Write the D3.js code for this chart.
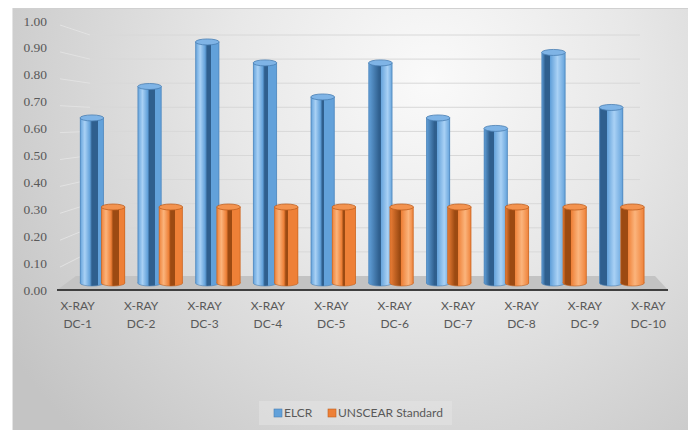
<!DOCTYPE html>
<html lang="en">
<head>
<meta charset="UTF-8" />
<title>ELCR vs UNSCEAR Standard</title>
<script src="https://d3js.org/d3.v7.min.js"></script>
<style>
  body { margin: 0; background: #ffffff; }
  svg { display: block; }
</style>
</head>
<body>
<script>
    // data
    var categories = ["DC-1", "DC-2", "DC-3", "DC-4", "DC-5", "DC-6", "DC-7", "DC-8", "DC-9", "DC-10"];
    var elcr = [0.63, 0.75, 0.92, 0.84, 0.71, 0.84, 0.63, 0.59, 0.88, 0.67];
    var unscear = [0.29, 0.29, 0.29, 0.29, 0.29, 0.29, 0.29, 0.29, 0.29, 0.29];
    var seriesNames = ["ELCR", "UNSCEAR Standard"];
    var yTicks = [0, 0.1, 0.2, 0.3, 0.4, 0.5, 0.6, 0.7, 0.8, 0.9, 1.0];

    var w = 688;
    var h = 430;

    var palette = {
        "ELCR": { light: "#a9d1f5", mid: "#62a1da", dark: "#2f5f8e", cap: "#7fb4e6", edge: "#4a7fb3" },
        "UNSCEAR Standard": { light: "#fbb47c", mid: "#ee8037", dark: "#9c4a12", cap: "#f3934f", edge: "#c0601f" }
    };

    var svg = d3.select("body").append("svg")
        .attr("width", w)
        .attr("height", h);

    var defs = svg.append("defs");

    // chart area background
    var bg = defs.append("radialGradient")
        .attr("id", "bg")
        .attr("gradientUnits", "userSpaceOnUse")
        .attr("cx", 430).attr("cy", 80).attr("r", 500);
    bg.append("stop").attr("offset", 0).attr("stop-color", "#fafafa");
    bg.append("stop").attr("offset", 0.4).attr("stop-color", "#e8e8e8");
    bg.append("stop").attr("offset", 1).attr("stop-color", "#c4c4c4");

    svg.append("rect")
        .attr("x", 12).attr("y", 8)
        .attr("width", w - 12).attr("height", h - 8)
        .attr("fill", "url(#bg)");
    svg.append("line")
        .attr("x1", 12).attr("x2", w).attr("y1", 8.5).attr("y2", 8.5)
        .attr("stroke", "#d0d0d0");
    svg.append("line")
        .attr("x1", 12.5).attr("x2", 12.5).attr("y1", 8).attr("y2", h)
        .attr("stroke", "#e4e4e4");

    // scales
    var yBar = d3.scaleLinear().domain([0, 1]).range([283, 21]);   // front plane (bars)
    var yWall = d3.scaleLinear().domain([0, 1]).range([276, 35]);  // back wall gridlines
    var yLabel = d3.scaleLinear().domain([0, 1]).range([290, 21]); // tick labels

    var xBar = d3.scaleBand().domain(categories).range([80, 657]);
    var xSub = d3.scaleBand().domain(seriesNames).range([0, 45]).paddingInner(-0.12);
    var xLabel = d3.scaleBand().domain(categories).range([46, 680]);

    // floor
    svg.append("polygon")
        .attr("points", [[57, 290], [668, 290], [655, 276], [76, 276]].join(" "))
        .attr("fill", "#c3c3c3");
    svg.append("line")
        .attr("x1", 57).attr("x2", 668).attr("y1", 290).attr("y2", 290)
        .attr("stroke", "#3f3f3f").attr("stroke-width", 2);

    // gridlines on the back wall
    svg.selectAll(".grid")
        .data(yTicks.slice(1))
        .enter()
        .append("line")
        .attr("class", "grid")
        .attr("x1", 90).attr("x2", 640)
        .attr("y1", function (d) { return yWall(d); })
        .attr("y2", function (d) { return yWall(d); })
        .attr("stroke", "#d8d8d8")
        .attr("stroke-width", 1);
    svg.selectAll(".side")
        .data(yTicks.slice(1))
        .enter()
        .append("line")
        .attr("class", "side")
        .attr("x1", 60).attr("x2", 90)
        .attr("y1", function (d) { return yLabel(d) + 4; })
        .attr("y2", function (d) { return yWall(d); })
        .attr("stroke", "#e2e2e2")
        .attr("stroke-width", 1);

    // y tick labels
    svg.selectAll(".ylab")
        .data(yTicks)
        .enter()
        .append("text")
        .attr("class", "ylab")
        .attr("x", 47)
        .attr("y", function (d) { return yLabel(d) + 4.5; })
        .attr("text-anchor", "end")
        .attr("font-family", "'Liberation Serif', 'DejaVu Serif', serif")
        .attr("font-size", "13.5px")
        .attr("fill", "#595959")
        .text(function (d) { return d3.format(".2f")(d); });

    // x labels
    var xl = svg.selectAll(".xlab")
        .data(categories)
        .enter()
        .append("text")
        .attr("class", "xlab")
        .attr("text-anchor", "middle")
        .attr("font-family", "Lato, 'Open Sans', sans-serif")
        .attr("font-size", "12px")
        .attr("fill", "#595959");
    xl.append("tspan")
        .attr("x", function (d) { return xLabel(d) + xLabel.bandwidth() / 2; })
        .attr("y", 310)
        .text("X-RAY");
    xl.append("tspan")
        .attr("x", function (d) { return xLabel(d) + xLabel.bandwidth() / 2; })
        .attr("y", 328)
        .text(function (d) { return d; });

    // bars as cylinders
    var bars = [];
    categories.forEach(function (c, i) {
        bars.push({ cat: c, series: "ELCR", value: elcr[i], idx: i });
    });
    categories.forEach(function (c, i) {
        bars.push({ cat: c, series: "UNSCEAR Standard", value: unscear[i], idx: i });
    });

    var bw = xSub.bandwidth();

    bars.forEach(function (d, k) {
        var x0 = xBar(d.cat) + xSub(d.series);
        var cx = x0 + bw / 2;
        var t = Math.max(-1, Math.min(1, (cx - 362) / 280));
        var p = palette[d.series];
        var g = defs.append("linearGradient")
            .attr("id", "cyl" + k)
            .attr("x1", 0).attr("x2", 1).attr("y1", 0).attr("y2", 0);
        var stops;
        if (t <= 0) {
            var u = -t;
            var s = 0.48 + 0.02 * u, e = 0.52 + 0.25 * u;
            stops = [[0, p.mid], [0.2, p.light], [s - 0.08, p.mid], [s, p.dark], [e, p.dark], [e, p.mid], [1, p.mid]];
        } else {
            var s2 = 0.48 - 0.48 * t, e2 = 0.52 - 0.22 * t;
            stops = [[0, p.mid], [s2, p.dark], [e2, p.dark], [e2, p.mid], [Math.min(0.95, e2 + 0.3), p.light], [1, p.mid]];
            if (s2 <= 0.001) stops[0] = [0, p.dark];
        }
        stops.forEach(function (st) {
            g.append("stop").attr("offset", st[0]).attr("stop-color", st[1]);
        });

        var yTop = yBar(d.value);
        var yBot = yBar(0);
        var grp = svg.append("g").attr("class", "bar");
        grp.append("ellipse")
            .attr("cx", cx).attr("cy", yBot)
            .attr("rx", bw / 2).attr("ry", 3)
            .attr("fill", "url(#cyl" + k + ")")
            .attr("stroke", p.edge).attr("stroke-width", 0.6);
        grp.append("rect")
            .attr("x", x0).attr("y", yTop)
            .attr("width", bw).attr("height", yBot - yTop)
            .attr("fill", "url(#cyl" + k + ")");
        grp.append("line")
            .attr("x1", x0 + 0.3).attr("x2", x0 + 0.3).attr("y1", yTop).attr("y2", yBot)
            .attr("stroke", p.edge).attr("stroke-width", 0.6);
        grp.append("line")
            .attr("x1", x0 + bw - 0.3).attr("x2", x0 + bw - 0.3).attr("y1", yTop).attr("y2", yBot)
            .attr("stroke", p.edge).attr("stroke-width", 0.6);
        grp.append("ellipse")
            .attr("cx", cx).attr("cy", yTop)
            .attr("rx", bw / 2).attr("ry", 3)
            .attr("fill", p.cap)
            .attr("stroke", p.edge).attr("stroke-width", 0.8);
    });

    // legend
    svg.append("rect")
        .attr("x", 259).attr("y", 401)
        .attr("width", 193).attr("height", 24)
        .attr("fill", "#e3e3e3").attr("opacity", 0.6);
    var lx = d3.scaleOrdinal().domain(seriesNames).range([274, 328]);
    var lg = svg.selectAll(".leg")
        .data(seriesNames)
        .enter()
        .append("g")
        .attr("class", "leg");
    lg.append("rect")
        .attr("x", function (d) { return lx(d); })
        .attr("y", 409)
        .attr("width", 8).attr("height", 8)
        .attr("fill", function (d) { return palette[d].mid; })
        .attr("stroke", function (d) { return palette[d].edge; })
        .attr("stroke-width", 0.6);
    lg.append("text")
        .attr("x", function (d) { return lx(d) + 10; })
        .attr("y", 417)
        .attr("font-family", "Lato, 'Open Sans', sans-serif")
        .attr("font-size", "12px")
        .attr("fill", "#595959")
        .text(function (d) { return d; });
</script>
</body>
</html>
